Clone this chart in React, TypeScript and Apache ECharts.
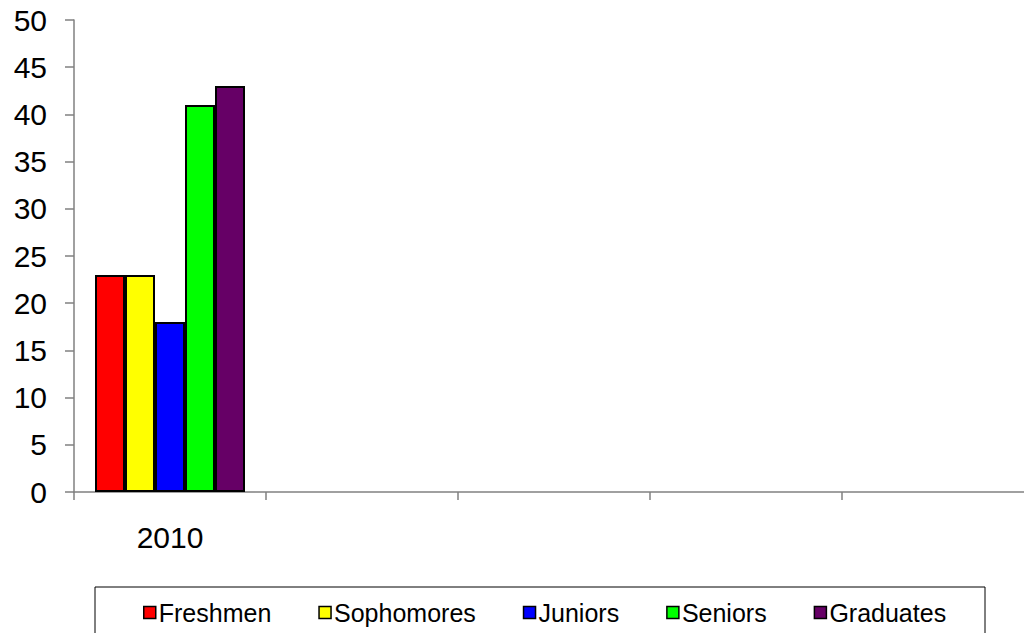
import React, { useEffect, useRef } from "react";
import * as echarts from "echarts";

const categories = ["2010", "", "", "", ""];
const seriesNames = ["Freshmen", "Sophomores", "Juniors", "Seniors", "Graduates"];
const seriesColors = ["#FF0000", "#FFFF00", "#0000FF", "#00FF00", "#660066"];
const freshmen = [23, null, null, null, null];
const sophomores = [23, null, null, null, null];
const juniors = [18, null, null, null, null];
const seniors = [41, null, null, null, null];
const graduates = [43, null, null, null, null];
const yTicks = { min: 0, max: 50, interval: 5 };

const FONT = "'Liberation Sans', Arial, sans-serif";

export default function App() {
  const ref = useRef<HTMLDivElement>(null);
  useEffect(() => {
    if (!ref.current) return;
    const chart = echarts.init(ref.current, undefined, { renderer: "svg" });
    const values = [freshmen, sophomores, juniors, seniors, graduates];
    chart.setOption({
      animation: false,
      backgroundColor: "#ffffff",
      textStyle: { fontFamily: FONT, color: "#000" },
      grid: { left: 74, top: 20, bottom: 141, right: 6, containLabel: false },
      xAxis: {
        type: "category",
        data: categories,
        boundaryGap: true,
        axisLine: { lineStyle: { color: "#808080", width: 1.5 } },
        axisTick: { show: true, length: 8, lineStyle: { color: "#808080", width: 1.5 } },
        axisLabel: { color: "#000", fontSize: 30, fontFamily: FONT, margin: 30, interval: 0 },
        splitLine: { show: false },
      },
      yAxis: {
        type: "value",
        min: yTicks.min,
        max: yTicks.max,
        interval: yTicks.interval,
        axisLine: { show: true, lineStyle: { color: "#808080", width: 1.5 } },
        axisTick: { show: true, length: 9, lineStyle: { color: "#808080", width: 1.5 } },
        axisLabel: { color: "#000", fontSize: 30, fontFamily: FONT, margin: 27 },
        splitLine: { show: false },
      },
      legend: {
        data: seriesNames,
        left: 143,
        top: 600,
        padding: 0,
        itemGap: 47,
        itemWidth: 12,
        itemHeight: 12,
        icon: "rect",
        textStyle: { fontSize: 25, color: "#000", fontFamily: FONT, padding: [0, 0, 0, -2] },
        itemStyle: { borderColor: "#000", borderWidth: 1.5 },
      },
      graphic: [
        {
          type: "rect",
          shape: { x: 95, y: 587, width: 890, height: 80 },
          style: { fill: "none", stroke: "#000", lineWidth: 1 },
          silent: true,
        },
      ],
      series: seriesNames.map((name, i) => ({
        name,
        type: "bar",
        data: values[i],
        barWidth: 30,
        barGap: "0%",
        itemStyle: { color: seriesColors[i], borderColor: "#000", borderWidth: 2 },
      })),
    });
    return () => chart.dispose();
  }, []);
  return (
    <div
      style={{
        position: "absolute",
        left: 0,
        top: 0,
        width: 1024,
        height: 633,
        overflow: "hidden",
        background: "#fff",
      }}
    >
      <div ref={ref} style={{ width: 1040, height: 633 }} />
    </div>
  );
}
